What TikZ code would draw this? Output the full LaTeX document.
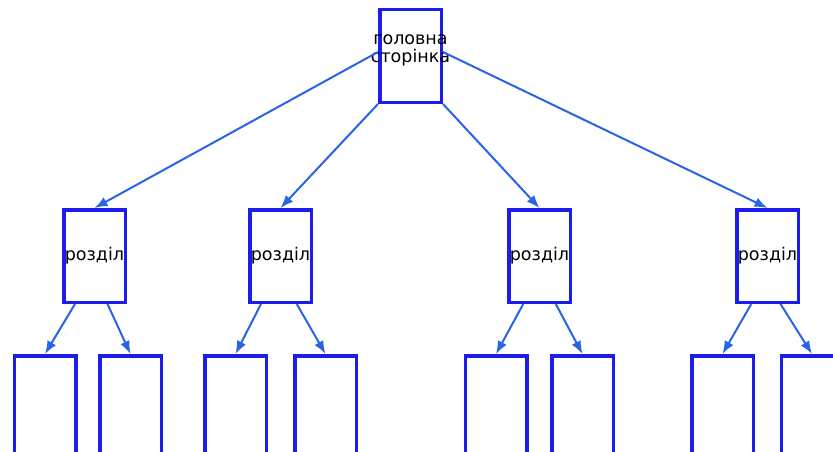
\documentclass[tikz,border=0pt]{standalone}
\usepackage{fontspec}
\setmainfont{DejaVu Sans}
\usetikzlibrary{arrows.meta,calc}
\definecolor{boxblue}{RGB}{28,28,235}
\definecolor{linkblue}{RGB}{40,100,232}

\begin{document}
\begin{tikzpicture}[
  x=1pt, y=-1pt,
  font=\fontsize{17.5}{18}\selectfont,
  >={Latex[length=13pt,width=10pt]},
  page/.style={draw=boxblue, line width=3.5pt, minimum width=61.5pt, minimum height=92.5pt, inner sep=0pt},
  leaf/.style={page, minimum height=120pt, anchor=north},
  edge/.style={->, draw=linkblue, fill=linkblue, line width=2pt}
]
\useasboundingbox (0,0) rectangle (833,452);

% top page
\node[page] (home) at (410.5,56) {};
\node[align=center, inner sep=0pt] (hometitle) at (410.5,50) {головна\\сторінка};

% sections
\node[page] (sec1) at (94.5,256) {розділ};
\node[page] (sec2) at (280.5,256) {розділ};
\node[page] (sec3) at (539.5,256) {розділ};
\node[page] (sec4) at (767.5,256) {розділ};

% sub pages
\node[leaf] (leaf1) at (45,354) {};
\node[leaf] (leaf2) at (130.5,354) {};
\node[leaf] (leaf3) at (235.5,354) {};
\node[leaf] (leaf4) at (325.5,354) {};
\node[leaf] (leaf5) at (496,354) {};
\node[leaf] (leaf6) at (582.5,354) {};
\node[leaf] (leaf7) at (722.5,354) {};
\node[leaf] (leaf8) at (812,354) {};

\draw[edge] ([yshift=4pt]home.west) -- (sec1.north);
\draw[edge] (home.south west) -- (sec2.north);
\draw[edge] (home.south east) -- (sec3.north);
\draw[edge] ([yshift=4pt]home.east) -- (sec4.north);

\draw[edge] ($(sec1.south west)!0.2!(sec1.south east)$) -- (leaf1.north);
\draw[edge] ($(sec1.south west)!0.7!(sec1.south east)$) -- (leaf2.north);
\draw[edge] ($(sec2.south west)!0.2!(sec2.south east)$) -- (leaf3.north);
\draw[edge] ($(sec2.south west)!0.75!(sec2.south east)$) -- (leaf4.north);
\draw[edge] ($(sec3.south west)!0.25!(sec3.south east)$) -- (leaf5.north);
\draw[edge] ($(sec3.south west)!0.75!(sec3.south east)$) -- (leaf6.north);
\draw[edge] ($(sec4.south west)!0.25!(sec4.south east)$) -- (leaf7.north);
\draw[edge] ($(sec4.south west)!0.7!(sec4.south east)$) -- (leaf8.north);
\end{tikzpicture}
\end{document}
